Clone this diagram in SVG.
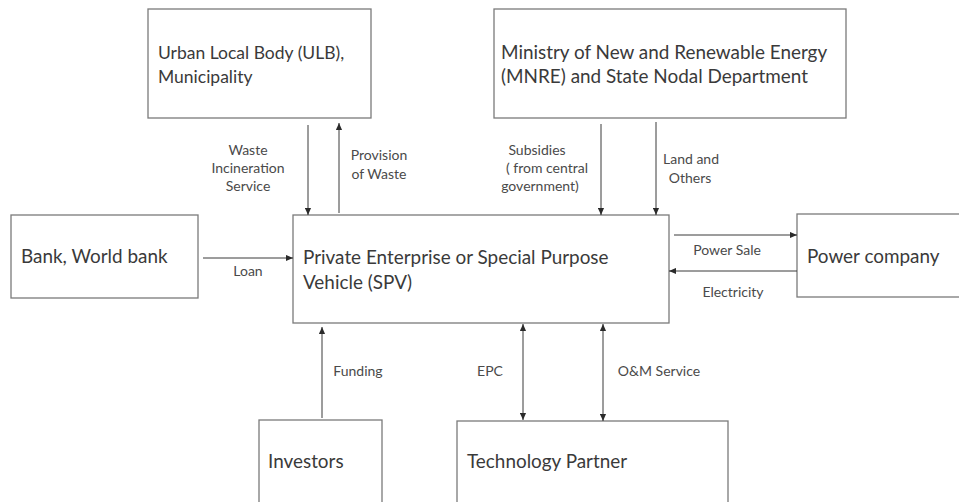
<svg xmlns="http://www.w3.org/2000/svg" width="959" height="502" viewBox="0 0 959 502">
  <style>
    .box { fill: #ffffff; stroke: #7a7a7a; stroke-width: 1.3; }
    .title { font-family: Lato, "Liberation Sans", sans-serif; font-size: 18.9px; fill: #3a3a3a; }
    .small { font-size: 17.5px; }
    .label { font-family: Lato, "Liberation Sans", sans-serif; font-size: 14px; fill: #4a4a4a; text-anchor: middle; }
    .flow { stroke: #3a3a3a; stroke-width: 1; fill: none; marker-end: url(#head); }
    .both { marker-start: url(#tail); }
  </style>
  <defs>
    <marker id="head" viewBox="0 0 8 8" refX="8" refY="4" markerWidth="7" markerHeight="7" markerUnits="userSpaceOnUse" orient="auto">
      <path d="M0,0.5 L8,4 L0,7.5 Z" fill="#2a2a2a"/>
    </marker>
    <marker id="tail" viewBox="0 0 8 8" refX="0" refY="4" markerWidth="7" markerHeight="7" markerUnits="userSpaceOnUse" orient="auto">
      <path d="M8,0.5 L0,4 L8,7.5 Z" fill="#2a2a2a"/>
    </marker>
  </defs>
  <rect width="959" height="502" fill="#ffffff"/>

  <g id="ulb">
    <rect class="box" x="148" y="9" width="223" height="109"/>
    <text class="title small" x="158" y="59">Urban Local Body (ULB),</text>
    <text class="title small" x="158" y="83">Municipality</text>
  </g>

  <g id="mnre">
    <rect class="box" x="494" y="9" width="352" height="109"/>
    <text class="title" x="501" y="59">Ministry of New and Renewable Energy</text>
    <text class="title" x="501" y="83">(MNRE) and State Nodal Department</text>
  </g>

  <g id="bank">
    <rect class="box" x="11" y="215" width="187" height="83"/>
    <text class="title" x="21" y="263">Bank, World bank</text>
  </g>

  <g id="spv">
    <rect class="box" x="293" y="215" width="376" height="108"/>
    <text class="title" x="303" y="264">Private Enterprise or Special Purpose</text>
    <text class="title" x="303" y="289">Vehicle (SPV)</text>
  </g>

  <g id="power">
    <rect class="box" x="797" y="214" width="170" height="83"/>
    <text class="title" x="807" y="263">Power company</text>
  </g>

  <g id="investors">
    <rect class="box" x="259" y="420" width="123" height="90"/>
    <text class="title" x="268" y="468">Investors</text>
  </g>

  <g id="tech">
    <rect class="box" x="457" y="421" width="271" height="90"/>
    <text class="title" x="467" y="468">Technology Partner</text>
  </g>

  <g id="connectors">
    <line class="flow" x1="308" y1="125" x2="308" y2="215"/>
    <line class="flow" x1="339" y1="213" x2="339" y2="123"/>
    <line class="flow" x1="601" y1="124" x2="601" y2="215"/>
    <line class="flow" x1="656" y1="122" x2="656" y2="215"/>
    <line class="flow" x1="203" y1="258" x2="293" y2="258"/>
    <line class="flow" x1="674" y1="235" x2="797" y2="235"/>
    <line class="flow" x1="797" y1="271" x2="669" y2="271"/>
    <line class="flow" x1="322" y1="418" x2="322" y2="327"/>
    <line class="flow both" x1="523" y1="324" x2="523" y2="420"/>
    <line class="flow both" x1="603" y1="324" x2="603" y2="421"/>

    <text class="label" x="248" y="155">Waste</text>
    <text class="label" x="248" y="173">Incineration</text>
    <text class="label" x="248" y="191">Service</text>
    <text class="label" x="379" y="160">Provision</text>
    <text class="label" x="379" y="179">of Waste</text>
    <text class="label" x="537" y="155">Subsidies</text>
    <text class="label" x="547" y="173">( from central</text>
    <text class="label" x="540" y="191">government)</text>
    <text class="label" x="691" y="164">Land and</text>
    <text class="label" x="690" y="183">Others</text>
    <text class="label" x="248" y="276">Loan</text>
    <text class="label" x="727" y="255">Power Sale</text>
    <text class="label" x="733" y="297">Electricity</text>
    <text class="label" x="358" y="376">Funding</text>
    <text class="label" x="490" y="376">EPC</text>
    <text class="label" x="659" y="376">O&amp;M Service</text>
  </g>
</svg>
